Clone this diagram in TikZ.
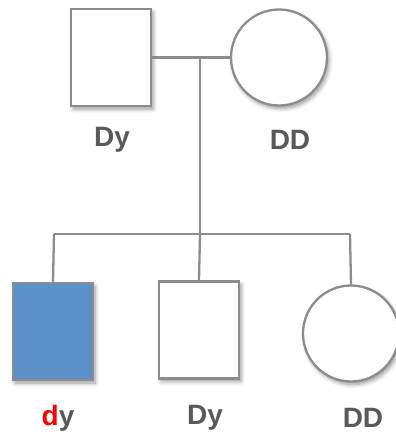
\documentclass[tikz,border=0pt]{standalone}
\usepackage{fontspec}
\setmainfont{Liberation Sans}
\usetikzlibrary{shadows.blur}
\definecolor{lineg}{HTML}{8C8C8C}
\definecolor{textg}{HTML}{595959}
\definecolor{fillb}{HTML}{5B91C8}
\definecolor{shad}{HTML}{D8D2A8}
\begin{document}
\begin{tikzpicture}[x=1pt,y=-1pt,
  shp/.style={draw=lineg,line width=2.3pt,fill=white,inner sep=0pt,
    blur shadow={shadow xshift=2pt,shadow yshift=-3pt,shadow blur steps=6,shadow opacity=40,shadow blur radius=4pt}},
  male/.style={shp,rectangle,minimum width=80pt,minimum height=97pt},
  female/.style={shp,circle,minimum size=96pt},
  lab/.style={font=\bfseries\fontsize{28}{28}\selectfont,text=textg},
  link/.style={draw=lineg,line width=2.3pt}]
\useasboundingbox (0,0) rectangle (396,437);
\node[male] (f) at (111,57.5) {};
\node[female] (m) at (279,57.5) {};
\node[lab] (lf) at (112,140) {Dy};
\node[lab] (lm) at (290,140) {DD};
\coordinate (mid) at (200,57.5);
\coordinate (sib) at (200,234);
\coordinate (sl) at (54,234);
\coordinate (sr) at (350,234);
\node[male,fill=fillb] (c1) at (53,331.5) {};
\node[male] (c2) at (199,330) {};
\node[female] (c3) at (351,333.5) {};
\node[lab] (l1) at (58,418) {\textcolor{red}{d}y};
\node[lab] (l2) at (205,418) {Dy};
\node[lab] (l3) at (363,418) {DD};
\draw[link] (f.east) -- (m.west);
\draw[link] (mid) -- (sib);
\draw[link] (sl) -- (sr);
\draw[link] (sl) -- (c1.north);
\draw[link] (sib) -- (c2.north);
\draw[link] (sr) -- (c3.north);
\end{tikzpicture}
\end{document}
